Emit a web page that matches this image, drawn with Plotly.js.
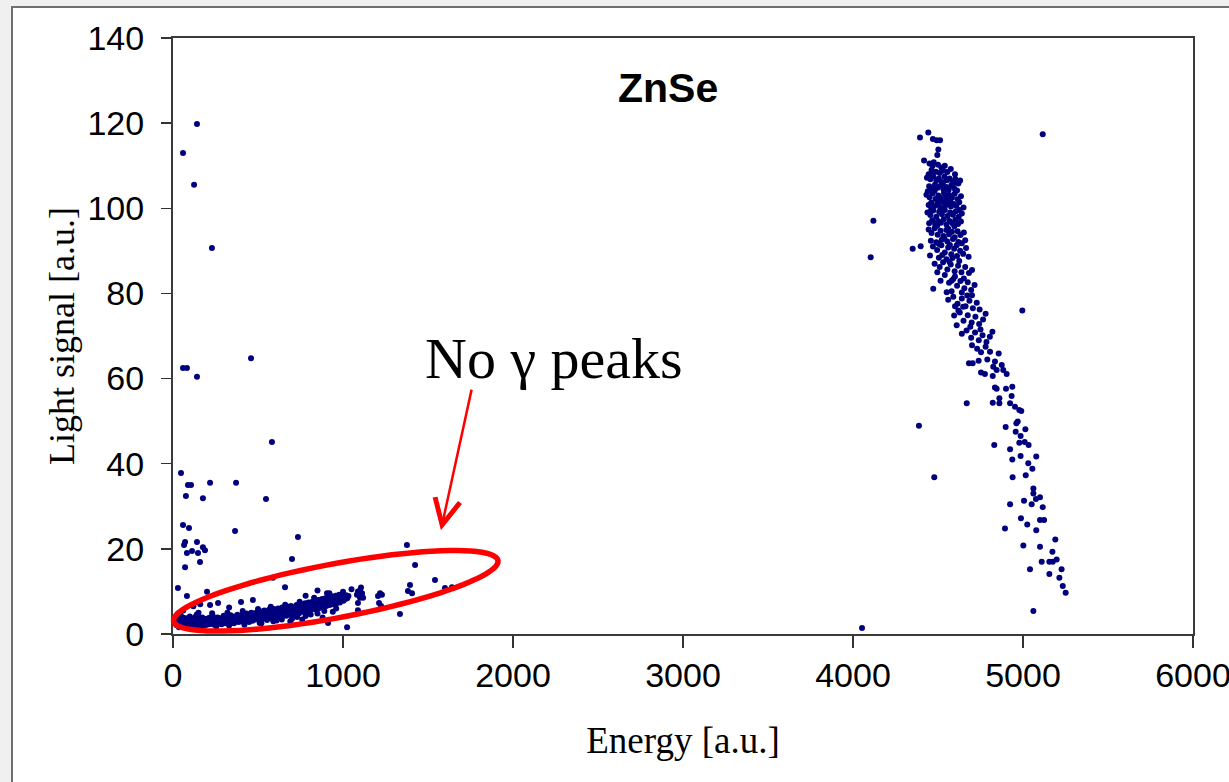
<!DOCTYPE html>
<html><head><meta charset="utf-8">
<script src="https://cdn.plot.ly/plotly-3.0.1.min.js"></script>
<style>
html,body{margin:0;padding:0;background:#f0f0f0;overflow:hidden;width:1229px;height:782px;}
#frame{position:absolute;left:11px;top:6px;width:1240px;height:800px;border:2px solid #707070;background:#fff;}
#chart{width:1240px;height:800px;}
</style></head><body><div id="frame"><div id="chart"></div></div>
<script>
// ---- data: [energy, light signal] ----
const lowBand = [
[12,2.6],[18,3.4],[20,2.1],[25,2.9],[28,3.8],[33,2.3],[36,3.2],[40,2.7],[44,3.6],[47,2.0],[50,3.0],[55,2.5],[58,3.9],[62,2.8],[65,2.2],[70,3.3],[73,2.6],[78,3.7],[80,2.3],[85,3.0],[88,2.1],[92,3.5],[95,2.7],[99,4.1],
[103,2.4],[106,3.1],[110,2.0],[113,3.6],[117,2.8],[120,2.2],[124,3.3],[128,2.6],[131,4.0],[135,2.9],[138,2.1],[142,3.4],[146,2.5],[150,3.0],[153,2.0],[157,3.7],[160,2.7],[164,3.2],[168,2.3],[172,3.9],[175,2.8],[179,2.2],[183,3.4],[186,2.6],[190,3.0],[194,2.1],[198,3.6],
[202,2.7],[206,3.2],[210,2.3],[214,3.8],[218,2.9],[222,2.4],[226,3.4],[230,2.6],[234,4.2],[238,3.0],[242,2.2],[246,3.5],[250,2.8],[254,3.1],[258,2.4],[262,3.9],[266,2.9],[270,3.3],[274,2.5],[278,3.7],[282,3.0],[286,2.3],[290,3.5],[294,2.8],[298,4.3],
[303,3.1],[307,2.5],[311,3.6],[315,2.9],[319,4.0],[323,3.2],[327,2.6],[331,3.8],[335,3.0],[339,4.4],[343,3.4],[347,2.7],[351,3.9],[355,3.2],[359,2.5],[363,4.1],[367,3.5],[371,2.9],[375,3.7],[379,4.5],[383,3.2],[387,2.8],[391,3.9],[395,3.4],[399,4.2],
[404,3.0],[408,3.7],[412,4.6],[416,3.3],[420,2.9],[424,4.0],[428,3.6],[432,4.8],[436,3.2],[440,4.3],[444,3.8],[448,2.8],[452,4.1],[456,3.5],[460,5.0],[464,3.9],[468,3.1],[472,4.4],[476,3.7],[480,4.9],[484,3.4],[488,4.2],[492,3.8],[496,5.1],
[501,3.6],[505,4.4],[509,3.1],[513,4.8],[517,4.0],[521,5.3],[525,3.5],[529,4.5],[533,4.1],[537,5.5],[541,3.8],[545,4.7],[549,4.2],[553,3.3],[557,5.0],[561,4.4],[565,5.7],[569,3.9],[573,4.8],[577,4.3],[581,5.4],[585,3.7],[589,4.9],[593,5.9],[597,4.5],
[602,5.2],[606,4.0],[610,5.6],[614,4.6],[618,6.0],[622,3.8],[626,5.0],[630,4.4],[634,5.8],[638,4.9],[642,6.2],[646,4.2],[650,5.3],[654,4.7],[658,6.1],[662,5.5],[666,4.3],[670,5.9],[674,5.0],[678,6.4],[682,4.6],[686,5.6],[690,5.2],[694,6.6],[698,4.8],
[702,5.8],[707,5.1],[712,6.3],[717,4.5],[722,5.5],[727,6.8],[732,5.3],[737,6.0],[742,4.9],[747,6.5],[752,5.6],[757,7.0],[762,5.2],[767,6.2],[772,5.8],[777,7.2],[782,5.0],[787,6.6],[792,6.0],[797,7.4],
[802,5.5],[807,6.8],[812,6.3],[817,7.5],[822,5.9],[827,7.0],[832,6.5],[837,7.8],[842,5.7],[847,7.2],[852,6.6],[857,8.0],[862,6.1],[867,7.4],[872,6.9],[877,8.2],[882,6.3],[887,7.6],[892,7.1],[897,8.4],
[902,6.6],[907,7.8],[912,7.3],[917,8.6],[922,6.8],[927,8.0],[932,7.5],[937,8.8],[942,7.0],[947,8.3],[952,7.7],[957,9.0],[962,7.2],[967,8.5],[972,7.9],[977,9.2],[982,7.4],[987,8.7],[992,8.1],[997,9.4],[1003,7.8],[1008,8.6],[1013,8.2],[1018,9.1],[1025,8.4],[1032,8.9],
[520,2.5],[610,3.2],[700,3.6],[780,4.2],[850,4.8],[880,3.9],[912,2.6],[940,5.2],[1024,1.6],[760,3.4],[690,3.0],
[35,1.6],[90,1.5],[170,1.7],[255,1.8],[330,2.0],[420,2.2],[510,2.6],[590,3.0],[640,3.4],[730,4.0],[810,4.6],[890,5.4],[960,6.0],
[45,4.4],[140,4.6],[230,4.9],[320,5.0],[410,5.4],[500,5.9],[575,6.4],[660,6.9],[745,7.6],[830,8.5],[920,9.6],[1000,9.9]
];
const lowScatter = [
[29,10.8],[82,8.9],[218,6.8],[200,9.9],[265,7.3],[120,6.5],[160,7.0],[330,6.2],[400,7.5],[588,13.2],[659,11.0],[906,9.6],[780,9.0],[850,10.2],[470,8.0],[60,5.5],[150,5.0],[30,4.8],
[982,8.0],[1082,9.2],[1088,10.0],[1100,10.3],[1112,9.6],[1118,8.5],[1100,8.5],[1088,7.3],[1088,5.6],[1206,8.9],[1218,9.6],[1229,9.2],[1212,7.3],[1224,6.6],[1335,4.7],[1382,10.1],[1406,9.6],[1394,11.5],[1424,16.2],[1541,12.7],[1600,10.8],[1641,11.0],[1376,20.9],[1050,10.5],[1106,10.9]
];
const lowOutliers = [
[141,119.8],[59,113.0],[124,105.5],[229,90.7],[59,62.5],[82,62.5],[141,60.4],[459,64.8],[582,45.1],[47,37.8],[88,35.0],[106,35.0],[218,35.5],[371,35.5],[76,32.4],[176,31.9],[547,31.7],[59,25.6],[94,24.9],[365,24.2],[735,22.8],[71,21.6],[65,20.9],[141,21.6],[112,19.5],[82,19.0],[147,19.0],[176,20.4],[188,19.7],[159,16.9],[700,17.6],[71,15.7]
];
const highCluster = [
[4394,116.6],[4443,117.8],[4492,116.0],[4512,116.0],[4502,113.8],[4496,112.5],[4418,111.2],[4470,116.3],
[4450,110.5],[4475,110.8],[4500,110.2],[4520,109.6],[4540,110.0],[4462,109.0],[4488,108.6],[4510,108.3],[4530,108.8],[4555,108.5],[4575,109.2],[4445,108.0],[4600,108.0],[4468,110.0],
[4435,107.2],[4455,106.8],[4472,107.5],[4490,106.5],[4505,107.0],[4522,106.2],[4538,107.4],[4552,106.6],[4568,107.0],[4585,106.3],[4602,106.9],[4620,105.8],[4448,105.2],[4465,104.6],[4482,105.5],[4498,104.8],[4515,105.3],[4532,104.5],[4548,105.0],[4562,104.3],[4578,105.4],[4595,104.7],[4612,104.2],[4440,104.0],[4630,106.5],
[4432,103.2],[4450,102.6],[4468,103.5],[4485,102.2],[4502,103.0],[4518,102.4],[4535,103.6],[4550,102.0],[4566,103.1],[4582,102.5],[4598,103.4],[4615,102.1],[4635,102.8],[4445,100.8],[4460,101.3],[4478,100.5],[4495,101.0],[4512,100.3],[4528,101.5],[4545,100.7],[4560,101.2],[4576,100.4],[4592,101.0],[4608,100.6],[4625,101.4],[4650,100.2],
[4438,99.0],[4455,98.4],[4472,99.5],[4490,98.0],[4507,99.2],[4523,98.6],[4540,99.6],[4556,98.2],[4572,99.0],[4588,98.5],[4605,99.3],[4622,98.0],[4640,98.8],[4448,96.5],[4466,97.2],[4483,96.3],[4500,97.0],[4517,96.6],[4534,97.4],[4550,96.2],[4568,97.0],[4585,96.5],[4602,97.3],[4618,96.3],[4635,96.9],
[4445,95.0],[4462,94.2],[4480,95.3],[4498,93.8],[4515,94.7],[4532,93.5],[4549,94.9],[4565,93.9],[4582,94.5],[4598,93.2],[4615,94.6],[4632,93.7],[4652,94.3],[4458,92.4],[4490,92.0],[4522,92.6],[4555,92.2],[4588,92.8],[4620,92.1],[4660,92.5],
[4351,90.5],[4398,91.1],[4453,88.9],[4470,91.0],[4495,90.2],[4520,91.3],[4540,89.6],[4560,90.8],[4578,89.2],[4595,90.5],[4612,88.8],[4630,90.0],[4648,89.3],[4665,90.7],[4505,88.4],[4550,88.0],[4585,88.3],[4680,88.6],
[4480,87.0],[4510,86.2],[4530,87.3],[4555,85.6],[4575,86.8],[4598,85.2],[4618,86.5],[4638,85.0],[4660,86.2],[4682,84.8],[4540,84.3],[4600,84.0],[4700,85.5],[4496,85.0],
[4472,81.1],[4551,80.3],[4515,83.0],[4565,82.5],[4590,83.4],[4612,81.8],[4632,82.9],[4655,81.2],[4675,82.6],[4695,80.8],[4715,82.0],[4580,80.5],[4640,80.2],
[4560,78.5],[4590,79.2],[4615,77.6],[4640,78.8],[4662,77.0],[4685,78.3],[4705,76.5],[4728,77.8],[4745,76.2],[4620,76.0],[4672,79.5],[4600,77.0],
[4595,74.8],[4628,75.5],[4650,73.6],[4675,74.9],[4698,73.2],[4720,74.5],[4742,72.8],[4765,73.9],[4610,72.5],[4690,72.2],[4780,75.2],
[4640,70.5],[4668,71.3],[4695,69.6],[4718,70.8],[4740,69.0],[4762,70.2],[4785,68.6],[4805,69.8],[4700,67.8],[4750,71.5],[4820,71.0],
[4753,66.2],[4806,66.3],[4857,65.9],[4682,63.6],[4704,63.6],[4739,64.2],[4790,64.5],[4835,64.0],[4875,63.2],[4884,62.0],[4845,62.0],[4825,62.8],[4776,61.1],[4753,61.4],[4822,60.6],[4904,61.1],[4730,67.0],[4780,67.5],
[4458,107.9],[4480,104.1],[4508,101.8],[4528,105.9],[4548,103.0],[4572,101.6],[4590,105.8],[4460,99.8],[4495,95.9],[4528,99.9],[4560,95.2],[4596,95.8],[4626,99.6],[4505,91.6],[4538,92.9],[4570,91.4],[4610,91.3],[4640,91.8],[4525,89.0],[4568,87.4],[4625,87.6],[4652,83.5],[4580,83.0],[4700,79.6],[4648,76.9]
];
const highTail = [
[4669,54.2],[4831,44.4],[4894,24.8],[4924,30.5],[4939,36.8],
[5234,11.3],[5214,13.2],[5227,15.2],[5155,14.1],[5041,15.2],[5110,17.0],[5155,17.0],[5175,17.0],[5198,17.5],[5173,19.3],[5190,22.2],[5100,20.5],[5002,20.8],[4988,27.2],[5025,25.7],[5078,24.4],[5100,26.8],[5124,26.8],[5116,29.8],[5051,30.5],[5006,31.3],[5100,32.1],[5076,31.7],[5061,34.2],[5061,33.0],[5016,37.3],[5055,38.8],[5031,40.1],[5078,41.7],[4986,41.8],[4937,41.0],[4924,43.4],[5033,44.4],[5010,45.1],[4978,44.9],[4986,46.5],[4957,47.5],[5014,48.1],[4898,48.6],[4961,49.5],[4969,49.9],[4990,52.4],[4978,52.6],[4953,53.4],[4924,54.2],[4861,54.2],[4822,54.3],[4861,55.4],[4933,55.9],[4937,58.1],[4900,57.6],[4845,57.6],[4835,57.9]
];
const highOutliers = [
[5116,117.4],[4120,97.1],[4104,88.5],[4388,48.9],[4478,36.8],[4996,76.0],[5061,5.4],[5251,9.7],[4053,1.4]
];
const xTicks = [0,1000,2000,3000,4000,5000,6000];
const yTicks = [0,20,40,60,80,100,120,140];

const allPts = [].concat(lowBand, lowScatter, lowOutliers, highCluster, highTail, highOutliers);

// plot geometry (px)
const W = 1240, H = 800, ML = 160, MR = 60, MT = 30, MB = 174;
const PW = W - ML - MR, PH = H - MT - MB;

// red ellipse in pixel space converted to paper coordinates
function ellipsePath(cx, cy, a, b, angDeg) {
  const t = angDeg * Math.PI / 180, n = 90;
  let p = '';
  for (let i = 0; i <= n; i++) {
    const s = 2 * Math.PI * i / n;
    const dx = a * Math.cos(s), dy = b * Math.sin(s);
    const px = cx + dx * Math.cos(t) - dy * Math.sin(t);
    const py = cy - dx * Math.sin(t) - dy * Math.cos(t);
    const ux = (px / PW).toFixed(5), uy = (1 - py / PH).toFixed(5);
    p += (i === 0 ? 'M' : 'L') + ux + ',' + uy;
  }
  return p + 'Z';
}
const ell = ellipsePath(335.8 - 173, 590.8 - 38, 165, 27, 10.6);

const trace = {
  type: 'scatter', mode: 'markers',
  x: allPts.map(p => p[0]), y: allPts.map(p => p[1]),
  marker: {color: '#00007f', size: 6, symbol: 'circle', line: {width: 0}},
  hoverinfo: 'x+y', showlegend: false
};

const tickFont = {family: 'Liberation Sans, Arial, sans-serif', size: 34, color: '#000'};
const serif = 'Liberation Serif, Times New Roman, serif';

const layout = {
  width: W, height: H,
  margin: {l: ML, r: MR, t: MT, b: MB},
  paper_bgcolor: '#fff', plot_bgcolor: '#fff',
  showlegend: false,
  xaxis: {
    range: [0, 6000], tickvals: xTicks, ticktext: xTicks.map(String),
    ticks: 'outside', ticklen: 12, tickwidth: 1.5, tickcolor: '#333',
    showline: true, linewidth: 2, linecolor: '#3a3a3a', mirror: true,
    showgrid: false, zeroline: false, tickfont: tickFont, automargin: false,
    ticklabelstandoff: -2,
    title: {text: 'Energy [a.u.]', font: {family: serif, size: 37, color: '#000'}, standoff: 34}
  },
  yaxis: {
    range: [0, 140], tickvals: yTicks, ticktext: yTicks.map(String),
    ticks: 'outside', ticklen: 10, tickwidth: 1.5, tickcolor: '#333',
    showline: true, linewidth: 2, linecolor: '#3a3a3a', mirror: true,
    showgrid: false, zeroline: false, tickfont: tickFont, automargin: false,
    ticklabelstandoff: 10,
    title: {text: 'Light signal [a.u.]', font: {family: serif, size: 36, color: '#000'}, standoff: 2}
  },
  shapes: [{type: 'path', xref: 'paper', yref: 'paper', path: ell,
            line: {color: '#ff0000', width: 5.5}, layer: 'above'}],
  annotations: [
    {xref: 'paper', yref: 'paper', x: (668 - 173) / PW, y: (634 - 88) / PH,
     xanchor: 'center', yanchor: 'middle',
     text: '<b>ZnSe</b>', showarrow: false,
     font: {family: 'Liberation Sans, Arial, sans-serif', size: 41, color: '#000'}},
    {xref: 'paper', yref: 'paper', x: (554 - 173) / PW, y: (634 - 358) / PH,
     xanchor: 'center', yanchor: 'middle',
     text: 'No γ peaks', showarrow: false,
     font: {family: serif, size: 58, color: '#000'}},
    {xref: 'x', yref: 'y', x: 1576, y: 24.4, ax: 31, ay: -142, text: '',
     showarrow: true, arrowhead: 5, arrowsize: 2, arrowwidth: 2.5, arrowcolor: '#ff0000'}
  ]
};

Plotly.newPlot('chart', [trace], layout, {displayModeBar: false, staticPlot: true});
</script></body></html>
